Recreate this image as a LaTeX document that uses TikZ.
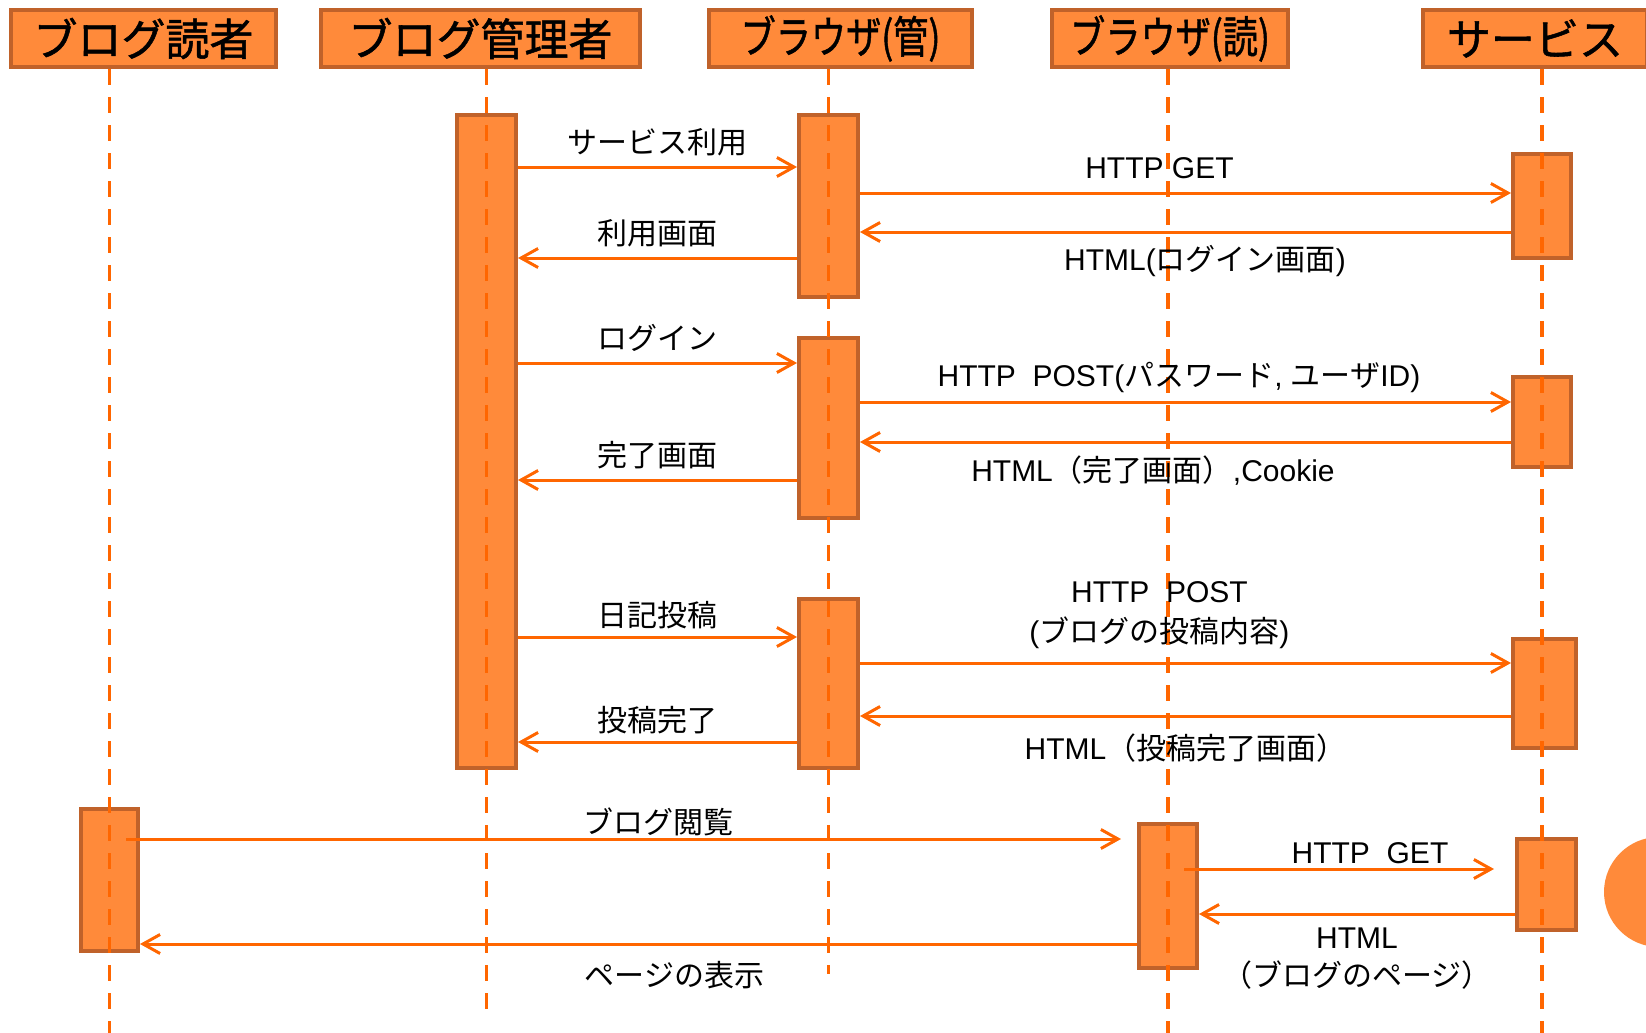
\documentclass[tikz,border=0pt]{standalone}
\usepackage{fontspec}
\usepackage{graphicx}
\setmainfont{Liberation Sans}
\newfontfamily\jp{Noto Sans CJK JP}
\newfontfamily\jphead[FakeBold=1.2]{Noto Sans CJK JP}
\usetikzlibrary{arrows.meta,calc}
\definecolor{boxfill}{HTML}{FF8A3A}
\definecolor{boxline}{HTML}{C0622A}
\definecolor{msgline}{HTML}{FF6600}

\begin{document}
\begin{tikzpicture}[x=0.5pt,y=-0.5pt,
    head/.style={draw=boxline,fill=boxfill,line width=2.2pt,minimum height=28.5pt,inner sep=0pt,font=\jphead\fontsize{22}{26}\selectfont},
    act/.style={draw=boxline,fill=boxfill,line width=2pt,minimum width=29.5pt,inner sep=0pt},
    life/.style={msgline,line width=1.9pt,dash pattern=on 8pt off 6pt},
    msg/.style={msgline,line width=1.5pt,-{Straight Barb[length=8.5pt,width=9.5pt]}},
    up/.style={yshift=12.5pt,text=black,font=\fontsize{15}{18}\selectfont},
    dn/.style={yshift=-14.5pt,text=black,font=\fontsize{15}{18}\selectfont}]
    \useasboundingbox (0,0) rectangle (1646,1033);
    \clip (0,0) rectangle (1646,1033);
    \fill[boxfill] (1659,892) circle (27.5pt);
    % lifeline heads
    \node[head,minimum width=132.5pt] (hrd) at (143.5,38.5) {ブログ読者};
    \node[head,minimum width=159.5pt] (hadm) at (480.5,38.5) {ブログ管理者};
    \node[head,minimum width=131.5pt] (hbk) at (840.5,38.5) {\scalebox{0.8}[1]{ブラウザ(管)}};
    \node[head,minimum width=118pt] (hbv) at (1170,38.5) {\scalebox{0.8}[1]{ブラウザ(読)}};
    \node[head,minimum width=112pt] (hsv) at (1535,38.5) {サービス};
    % activations
    \node[act,minimum height=326.5pt] (adm) at (486.5,441.5) {};
    \node[act,minimum height=91pt] (bk1) at (828.5,206) {};
    \node[act,minimum height=90pt] (bk2) at (828.5,428) {};
    \node[act,minimum height=84.5pt] (bk3) at (828.5,683.5) {};
    \node[act,minimum width=29pt,minimum height=52pt] (sv1) at (1542,206) {};
    \node[act,minimum width=29pt,minimum height=45pt] (sv2) at (1542,422) {};
    \node[act,minimum width=31.5pt,minimum height=54.5pt] (sv3) at (1544.5,693.5) {};
    \node[act,minimum width=28.5pt,minimum height=71pt] (rd) at (109.5,880) {};
    \node[act,minimum width=29pt,minimum height=72pt] (bv) at (1168,896) {};
    \node[act,minimum width=29.5pt,minimum height=45.5pt] (sv4) at (1546.5,884.5) {};
    % lifelines
    \draw[life] (hrd.south -| rd) -- (rd |- 0,1033);
    \draw[life] (hadm.south -| adm) -- (adm |- 0,1017);
    \draw[life] (hbk.south -| bk1) -- (bk1 |- 0,974);
    \draw[life] (hbv.south -| bv) -- (bv |- 0,1033);
    \draw[life] (hsv.south -| sv1) -- (sv1 |- 0,1033);
    % messages
    \draw[msg] (adm.east |- 0,167) -- (bk1.west |- 0,167) node[up,midway] (l1) {\jp サービス利用};
    \draw[msg] (bk1.west |- 0,258) -- (adm.east |- 0,258) node[up,midway] (l2) {\jp 利用画面};
    \draw[msg] (bk1.east |- 0,193) -- (sv1.west |- 0,193) node[up,pos=.46] (l3) {HTTP GET};
    \draw[msg] (sv1.west |- 0,232) -- (bk1.east |- 0,232) node[dn,pos=.47] (l4) {HTML({\jp ログイン画面})};
    \draw[msg] (adm.east |- 0,363) -- (bk2.west |- 0,363) node[up,midway] (l5) {\jp ログイン};
    \draw[msg] (bk2.west |- 0,480) -- (adm.east |- 0,480) node[up,midway] (l6) {\jp 完了画面};
    \draw[msg] (bk2.east |- 0,402) -- (sv2.west |- 0,402) node[up,pos=.49] (l7) {HTTP\ \ POST({\jp パスワード}, {\jp ユーザ}ID)};
    \draw[msg] (sv2.west |- 0,442) -- (bk2.east |- 0,442) node[dn,pos=.55] (l8) {HTML{\jp （完了画面）},Cookie};
    \draw[msg] (adm.east |- 0,637) -- (bk3.west |- 0,637) node[up,midway,yshift=-1.5pt] (l9) {\jp 日記投稿};
    \draw[msg] (bk3.west |- 0,742) -- (adm.east |- 0,742) node[up,midway,yshift=-1.5pt] (l10) {\jp 投稿完了};
    \draw[msg] (bk3.east |- 0,663) -- (sv3.west |- 0,663) node[up,pos=.46,yshift=11.5pt,align=center] (l11) {HTTP\ \ POST\\[2pt]({\jp ブログの投稿内容})};
    \draw[msg] (sv3.west |- 0,716) -- (bk3.east |- 0,716) node[dn,pos=.5,yshift=-1.5pt] (l12) {HTML{\jp （投稿完了画面）}};
    \draw[msg] ($(rd.east |- 0,839)+(-14,0)$) -- ($(bv.west |- 0,839)+(-16,0)$) node[up,pos=.535,yshift=-4pt] (l13) {\jp ブログ閲覧};
    \draw[msg] ($(bv.east |- 0,869)+(-15,0)$) -- ($(sv4.west |- 0,869)+(-21,0)$) node[up,pos=.6,yshift=-4.5pt] (l14) {HTTP\ \ GET};
    \draw[msg] (sv4.west |- 0,914) -- (bv.east |- 0,914) node[dn,pos=.5,yshift=-8pt,align=center] (l15) {HTML\\[1pt]{\jp （ブログのページ）}};
    \draw[msg] (bv.west |- 0,944) -- (rd.east |- 0,944) node[dn,pos=.464,yshift=-1pt] (l16) {\jp ページの表示};
\end{tikzpicture}
\end{document}
